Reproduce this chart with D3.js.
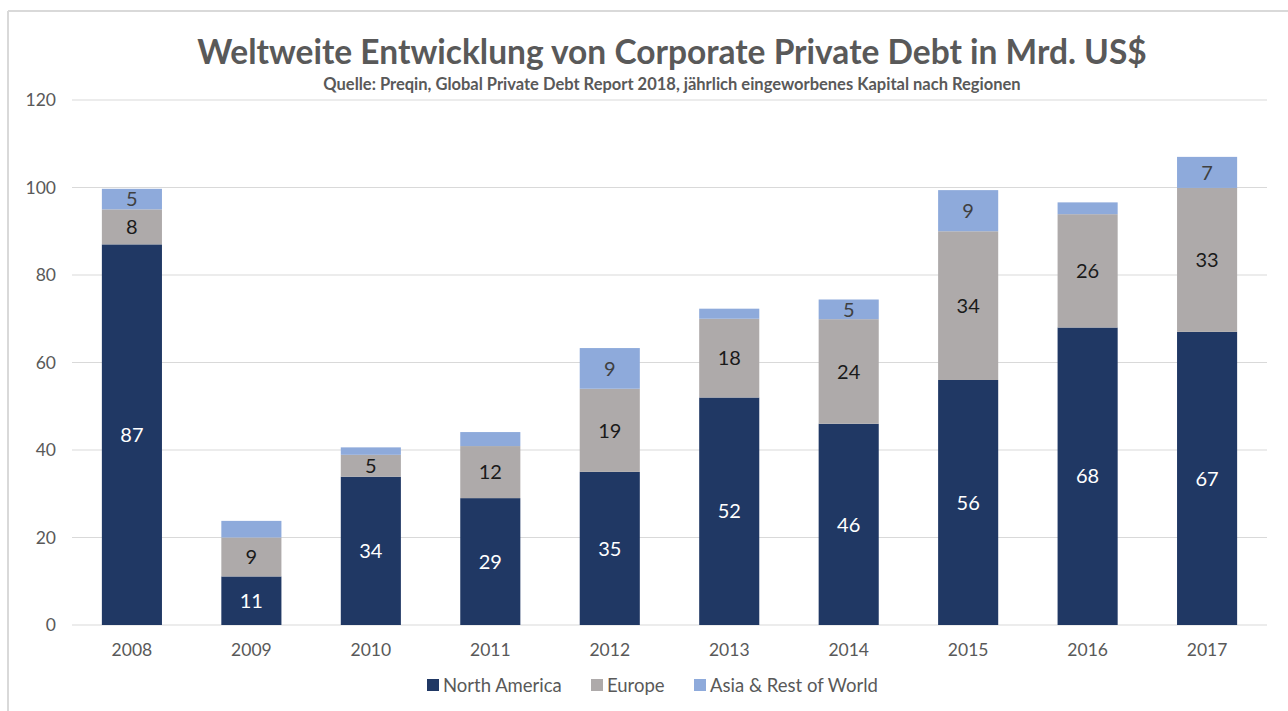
<!DOCTYPE html>
<meta charset="utf-8">
<style>
body { margin: 0; background: #fff; }
text { font-family: Lato, "Open Sans", sans-serif; }
.grid line { stroke: #d9d9d9; stroke-width: 1px; }
.axis text { fill: #595959; font-size: 17.5px; }
</style>
<body>
<script src="https://d3js.org/d3.v7.min.js"></script>
<script>

// data (Mrd. US$)
var years = ["2008", "2009", "2010", "2011", "2012", "2013", "2014", "2015", "2016", "2017"];
var northAmerica = [87, 11.1, 33.9, 29, 35, 52, 46, 56, 68, 67];
var europe = [8, 8.9, 5, 11.9, 19, 18, 23.9, 34, 25.9, 32.9];
var asiaRest = [4.7, 3.8, 1.7, 3.2, 9.3, 2.3, 4.5, 9.4, 2.7, 7.1];
var seriesNames = ["North America", "Europe", "Asia & Rest of World"];
var yTicks = [0, 20, 40, 60, 80, 100, 120];

var colors = ["#203864", "#aeaaaa", "#8eaadb"];
var labelColors = ["#ffffff", "#1a1a1a", "#404040"];

var W = 1288, H = 711;
var margin = {top: 100, right: 21, bottom: 86, left: 72},
    width = W - margin.left - margin.right,
    height = H - margin.top - margin.bottom;

var svg = d3.select("body").append("svg")
    .attr("width", W)
    .attr("height", H);

// light frame (top + left edges visible)
svg.append("line").attr("x1", 8).attr("x2", W).attr("y1", 11).attr("y2", 11)
    .attr("stroke", "#d9d9d9").attr("stroke-width", 2);
svg.append("line").attr("x1", 8).attr("x2", 8).attr("y1", 11).attr("y2", H)
    .attr("stroke", "#d9d9d9").attr("stroke-width", 2);

// titles
svg.append("text")
    .attr("x", 672).attr("y", 64)
    .attr("text-anchor", "middle")
    .style("font-size", "33.5px").style("font-weight", "bold").style("fill", "#595959")
    .text("Weltweite Entwicklung von Corporate Private Debt in Mrd. US$");
svg.append("text")
    .attr("x", 672).attr("y", 90)
    .attr("text-anchor", "middle")
    .style("font-size", "16.5px").style("font-weight", "bold").style("fill", "#595959")
    .text("Quelle: Preqin, Global Private Debt Report 2018, jährlich eingeworbenes Kapital nach Regionen");

var g = svg.append("g")
    .attr("transform", "translate(" + margin.left + "," + margin.top + ")");

var x = d3.scaleBand().domain(years).range([0, width]).paddingInner(0.497).paddingOuter(0.25);
var y = d3.scaleLinear().domain([0, 120]).range([height, 0]);

// gridlines
g.append("g").attr("class", "grid")
  .selectAll("line").data(yTicks).enter().append("line")
    .attr("x1", 0).attr("x2", width)
    .attr("y1", function(d) { return y(d); })
    .attr("y2", function(d) { return y(d); });

// y axis labels
var yAxis = g.append("g").attr("class", "axis")
    .call(d3.axisLeft(y).tickValues(yTicks).tickSize(0).tickPadding(16));
yAxis.select(".domain").remove();

// x axis labels
var xAxis = g.append("g").attr("class", "axis")
    .attr("transform", "translate(0," + height + ")")
    .call(d3.axisBottom(x).tickSize(0).tickPadding(19));
xAxis.select(".domain").remove();

// stack the series
var table = years.map(function(yr, i) {
  return {year: yr, na: northAmerica[i], eu: europe[i], as: asiaRest[i]};
});
var keys = ["na", "eu", "as"];
var stacked = d3.stack().keys(keys)(table);

var layer = g.selectAll(".layer")
    .data(stacked)
  .enter().append("g")
    .attr("class", "layer")
    .attr("fill", function(d, i) { return colors[i]; });

layer.selectAll("rect")
    .data(function(d) { return d; })
  .enter().append("rect")
    .attr("x", function(d) { return x(d.data.year); })
    .attr("width", x.bandwidth())
    .attr("y", function(d) { return y(d[1]); })
    .attr("height", function(d) { return y(d[0]) - y(d[1]); });

// value labels (small segments stay unlabelled, as in the original)
layer.each(function(s, si) {
  d3.select(this).selectAll("text")
      .data(s.filter(function(d) { return d[1] - d[0] >= 4.5; }))
    .enter().append("text")
      .attr("x", function(d) { return x(d.data.year) + x.bandwidth() / 2; })
      .attr("y", function(d) { return y((d[0] + d[1]) / 2); })
      .attr("dy", "0.36em")
      .attr("text-anchor", "middle")
      .style("font-size", "20px")
      .style("fill", labelColors[si])
      .text(function(d) { return Math.round(d[1] - d[0]); });
});

// legend
var legendX = [427, 591, 694];
var legend = svg.append("g").selectAll("g")
    .data(seriesNames)
  .enter().append("g")
    .attr("transform", function(d, i) { return "translate(" + legendX[i] + ",685)"; });
legend.append("rect")
    .attr("x", 0).attr("y", -6).attr("width", 12).attr("height", 12)
    .attr("fill", function(d, i) { return colors[i]; });
legend.append("text")
    .attr("x", 16).attr("dy", "0.36em")
    .style("font-size", "18.5px").style("fill", "#595959")
    .text(function(d) { return d; });

</script>
</body>
